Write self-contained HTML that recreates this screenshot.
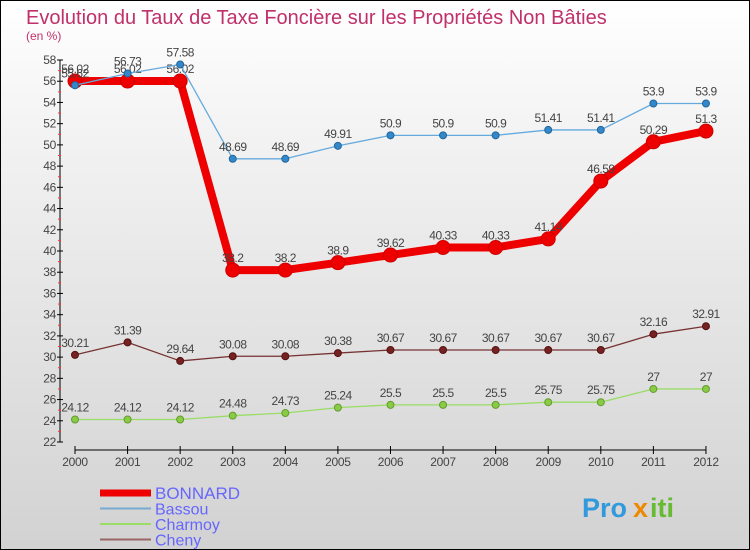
<!DOCTYPE html>
<html><head><meta charset="utf-8"><style>
body{margin:0}
#c{width:750px;height:550px;position:relative;box-sizing:border-box;border:1px solid #000;background:linear-gradient(#fff,#f0f0f0 30%,#d2d2d2);font-family:"Liberation Sans","DejaVu Sans",sans-serif;overflow:hidden}
</style></head><body>
<div id="c">
<svg id="s" width="750" height="550" style="position:absolute;left:-1px;top:-1px"></svg>
</div>
<script>
const years=["2000","2001","2002","2003","2004","2005","2006","2007","2008","2009","2010","2011","2012"];
const bonnard=[56.02,56.02,56.02,38.2,38.2,38.9,39.62,40.33,40.33,41.14,46.59,50.29,51.3];
const bassou=[55.62,56.73,57.58,48.69,48.69,49.91,50.9,50.9,50.9,51.41,51.41,53.9,53.9];
const charmoy=[24.12,24.12,24.12,24.48,24.73,25.24,25.5,25.5,25.5,25.75,25.75,27,27];
const cheny=[30.21,31.39,29.64,30.08,30.08,30.38,30.67,30.67,30.67,30.67,30.67,32.16,32.91];
const yTicks=[22,24,26,28,30,32,34,36,38,40,42,44,46,48,50,52,54,56,58];
const s=document.getElementById('s');const NS="http://www.w3.org/2000/svg";
function X(i){return 75+i*52.58}
function Y(v){return 442-(v-22)*(382/36)}
function el(t,a,txt){const e=document.createElementNS(NS,t);for(const k in a)e.setAttribute(k,a[k]);if(txt!==undefined)e.textContent=txt;s.appendChild(e);return e}
let e;
e=el('text',{x:26,y:24,'font-size':20,fill:'#c0306a'},'Evolution du Taux de Taxe Foncière sur les Propriétés Non Bâties');

e=el('text',{x:26,y:40,'font-size':12,fill:'#c0306a'},'(en %)');

e=el('line',{x1:60,y1:60,x2:60,y2:442,stroke:'#000'});

e=el('line',{x1:75,y1:450,x2:706,y2:450,stroke:'#000'});

yTicks.forEach(v=>{
 el('line',{x1:57,y1:Y(v),x2:63,y2:Y(v),stroke:'#000'});
 if(v<58)el('line',{x1:58,y1:Y(v+1),x2:61,y2:Y(v+1),stroke:'#f33'});
 e=el('text',{x:56,y:Y(v)+4,'font-size':12,fill:'#444','text-anchor':'end','letter-spacing':'-0.3'},String(v));
 
});
years.forEach((y,i)=>{
 el('line',{x1:X(i),y1:446,x2:X(i),y2:454,stroke:'#000'});
 e=el('text',{x:X(i),y:466,'font-size':12,fill:'#444','text-anchor':'middle','letter-spacing':'-0.3'},y);
 
});
function series(name,data,color,w,r,dot,stroke){
 const p=data.map((v,i)=>X(i)+','+Y(v)).join(' ');
 e=el('polyline',{points:p,fill:'none',stroke:color,'stroke-width':w,'stroke-linejoin':'round'});
 
 data.forEach((v,i)=>{
  e=el('circle',{cx:X(i),cy:Y(v),r:r,fill:dot,stroke:stroke,'stroke-width':1});
  
  e=el('text',{x:X(i),y:Y(v)-8,'font-size':12,fill:'#444','text-anchor':'middle','letter-spacing':'-0.5'},String(v));
  
 });
}
series('charmoy',charmoy,'#99dd66',1.3,3.5,'#88cc44','#669933');
series('cheny',cheny,'#773333',1.3,3.5,'#772222','#551111');
series('bonnard',bonnard,'#ee0000',8,7,'#ee0000','#cc0000');
series('bassou',bassou,'#66aadd',1.3,3.5,'#3388cc','#226699');
const leg=[['BONNARD','#ee0000',7],['Bassou','#77aad0',2],['Charmoy','#99dd66',2],['Cheny','#996666',2]];
leg.forEach((l,i)=>{const y=493+i*15.5;
 e=el('rect',{x:100,y:y-l[2]/2,width:51,height:l[2],fill:l[1]});
 
 e=el('text',{x:155,y:y+6,'font-size':i?16:17,fill:'#6666ff'},l[0]);
 
});
e=el('text',{x:582,y:517,'font-size':27,'font-weight':'bold',fill:'#3399dd'},'Pro');

el('text',{x:633,y:517,'font-size':27,'font-weight':'bold',fill:'#ee8800'},'x');
el('text',{x:650,y:517,'font-size':27,'font-weight':'bold',fill:'#66bb33'},'iti');
</script>
</body></html>
